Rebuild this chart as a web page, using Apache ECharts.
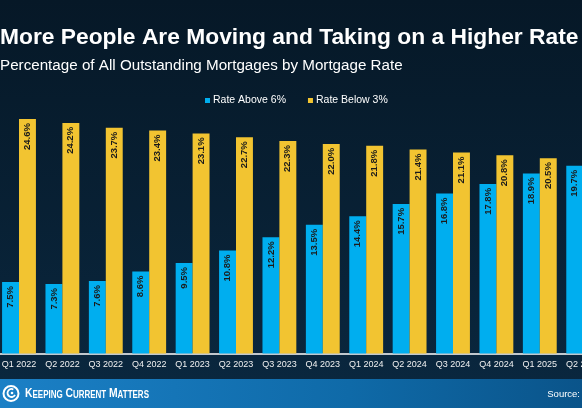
<!DOCTYPE html>
<html lang="en">
<head>
    <meta charset="UTF-8">
    <title>More People Are Moving and Taking on a Higher Rate</title>
    <script src="https://cdn.jsdelivr.net/npm/echarts@6/dist/echarts.min.js"></script>
    <style>
        html, body { margin: 0; padding: 0; background: #071c2c; }
        #chart { width: 582px; height: 408px; }
    </style>
</head>
<body>
<div id="chart"></div>
<script>
    // data
    var quarters = ['Q1 2022', 'Q2 2022', 'Q3 2022', 'Q4 2022', 'Q1 2023', 'Q2 2023', 'Q3 2023',
        'Q4 2023', 'Q1 2024', 'Q2 2024', 'Q3 2024', 'Q4 2024', 'Q1 2025', 'Q2 2025'];
    var rateAbove6 = [7.5, 7.3, 7.6, 8.6, 9.5, 10.8, 12.2, 13.5, 14.4, 15.7, 16.8, 17.8, 18.9, 19.7];
    var rateBelow3 = [24.6, 24.2, 23.7, 23.4, 23.1, 22.7, 22.3, 22.0, 21.8, 21.4, 21.1, 20.8, 20.5, 20.2];

    var FONT = '"Liberation Sans", Arial, sans-serif';

    var barLabel = {
        show: true,
        position: 'insideTop',
        rotate: 90,
        align: 'right',
        verticalAlign: 'middle',
        distance: 4,
        color: '#1b1b1b',
        fontFamily: FONT,
        fontWeight: 'bold',
        fontSize: 9.5,
        formatter: function (p) { return p.value.toFixed(1) + '%'; }
    };

    var chart = echarts.init(document.getElementById('chart'));
    chart.setOption({
        animation: false,
        backgroundColor: {
            type: 'linear', x: 0, y: 0, x2: 0, y2: 1,
            colorStops: [{offset: 0, color: '#061827'}, {offset: 1, color: '#0a2840'}]
        },
        title: [{
            text: 'More People Are Moving and Taking on a Higher Rate',
            left: 0, top: 26, padding: 0,
            textStyle: {color: '#ffffff', fontFamily: FONT, fontWeight: 'bold', fontSize: 22.8}
        }, {
            text: 'Percentage of All Outstanding Mortgages by Mortgage Rate',
            left: 0, top: 58, padding: 0,
            textStyle: {color: '#ffffff', fontFamily: FONT, fontWeight: 'normal', fontSize: 15.2}
        }],
        legend: {
            left: 205, top: 95, padding: 0,
            itemWidth: 5, itemHeight: 5, itemGap: 22,
            icon: 'rect',
            textStyle: {color: '#ffffff', fontFamily: FONT, fontSize: 10.5, padding: [0, 0, 0, -2]},
            data: ['Rate Above 6%', 'Rate Below 3%']
        },
        // the picture is cropped: the last group runs past the right edge
        grid: {
            left: -2.7, width: 607.6, top: 115.3, bottom: 54.5,
            containLabel: false, outerBoundsMode: 'none'
        },
        xAxis: {
            type: 'category',
            data: quarters,
            axisLine: {lineStyle: {color: '#ffffff', width: 1.5}},
            axisTick: {show: false},
            axisLabel: {color: '#f0f0f0', fontFamily: FONT, fontSize: 9, margin: 7, interval: 0}
        },
        yAxis: {
            type: 'value', min: 0, max: 25,
            show: false,
            splitLine: {show: false}
        },
        series: [{
            name: 'Rate Above 6%',
            type: 'bar',
            data: rateAbove6,
            barGap: '0%',
            barCategoryGap: '22%',
            itemStyle: {color: '#00aeef'},
            label: barLabel
        }, {
            name: 'Rate Below 3%',
            type: 'bar',
            data: rateBelow3,
            itemStyle: {color: '#f2c431'},
            label: barLabel
        }],
        graphic: [{
            type: 'rect',
            shape: {x: 0, y: 379, width: 582, height: 29},
            style: {
                fill: {
                    type: 'linear', x: 0, y: 0, x2: 1, y2: 0.3,
                    colorStops: [{offset: 0, color: '#1b80c6'}, {offset: 0.6, color: '#0f6aa8'}, {offset: 1, color: '#0a548a'}]
                }
            }
        }, {
            // logo swirl
            type: 'circle', shape: {cx: 11, cy: 393.5, r: 7.5},
            style: {fill: 'none', stroke: '#ffffff', lineWidth: 2}
        }, {
            type: 'arc', shape: {cx: 11.5, cy: 393, r: 4, startAngle: 0.5, endAngle: 5.2},
            style: {fill: 'none', stroke: '#ffffff', lineWidth: 1.8}
        }, {
            type: 'circle', shape: {cx: 12, cy: 393, r: 1.3},
            style: {fill: '#ffffff'}
        }, {
            type: 'text',
            x: 25, y: 387, scaleX: 0.8,
            style: {
                text: '{b|K}{s|EEPING} {b|C}{s|URRENT} {b|M}{s|ATTERS}',
                rich: {
                    b: {fill: '#ffffff', fontFamily: FONT, fontSize: 13, fontWeight: 'bold', verticalAlign: 'bottom'},
                    s: {fill: '#ffffff', fontFamily: FONT, fontSize: 10, fontWeight: 'bold', verticalAlign: 'bottom'}
                }
            }
        }, {
            type: 'text',
            right: 2, top: 389,
            style: {text: 'Source:', fill: '#ffffff', font: '9.5px "Liberation Sans", Arial, sans-serif'}
        }]
    });
</script>
</body>
</html>
